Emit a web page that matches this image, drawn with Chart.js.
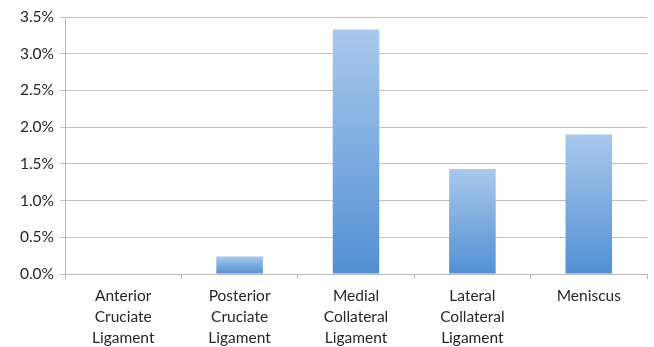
<!DOCTYPE html>
<html>
<head>
<meta charset="utf-8">
<script src="https://cdn.jsdelivr.net/npm/chart.js@4"></script>
<style>
  html, body { margin: 0; padding: 0; background: #fff; }
  #wrap { width: 654px; height: 347px; }
</style>
</head>
<body>
<div id="wrap"><canvas id="grafico"></canvas></div>
<script>
const categorias = [
  ['Anterior', 'Cruciate', 'Ligament'],
  ['Posterior', 'Cruciate', 'Ligament'],
  ['Medial', 'Collateral', 'Ligament'],
  ['Lateral', 'Collateral', 'Ligament'],
  ['Meniscus']
];
const valores = [0, 0.24, 3.33, 1.43, 1.90]; // percent
const yMax = 3.5;
const yStep = 0.5;

function gradiente(ctx) {
  const chart = ctx.chart;
  const y = chart.scales.y;
  if (!chart.chartArea || !y) return '#7aa9e0';
  const v = ctx.raw;
  const top = y.getPixelForValue(v);
  const base = y.getPixelForValue(0);
  if (!isFinite(top) || base - top < 1) return '#7aa9e0';
  const g = chart.ctx.createLinearGradient(0, top, 0, base);
  g.addColorStop(0, '#a9c8ec');
  g.addColorStop(1, '#5290d4');
  return g;
}

const fonte = { family: 'Lato', size: 15.5 };

new Chart(document.getElementById('grafico'), {
  type: 'bar',
  data: {
    labels: categorias,
    datasets: [{
      data: valores,
      backgroundColor: gradiente,
      borderWidth: 0,
      categoryPercentage: 1,
      barPercentage: 0.4
    }]
  },
  options: {
    responsive: true,
    maintainAspectRatio: false,
    animation: false,
    layout: { padding: { top: 17, right: 7, left: 0, bottom: 0 } },
    plugins: { legend: { display: false }, tooltip: { enabled: false } },
    scales: {
      x: {
        grid: { offset: true, drawOnChartArea: false, drawTicks: true, tickLength: 5, color: '#b8b8b8' },
        border: { color: '#b8b8b8' },
        ticks: { font: { ...fonte, lineHeight: 1.38 }, color: '#262626', maxRotation: 0, padding: 6 },
        afterFit: s => { s.height = 73; }
      },
      y: {
        min: 0,
        max: yMax,
        grid: { color: '#c0c0c0', tickLength: 5 },
        border: { color: '#b8b8b8' },
        ticks: {
          stepSize: yStep,
          font: fonte,
          color: '#262626',
          padding: 6,
          callback: v => v.toFixed(1) + '%'
        },
        afterFit: s => { s.width = 65; }
      }
    }
  }
});
</script>
</body>
</html>
